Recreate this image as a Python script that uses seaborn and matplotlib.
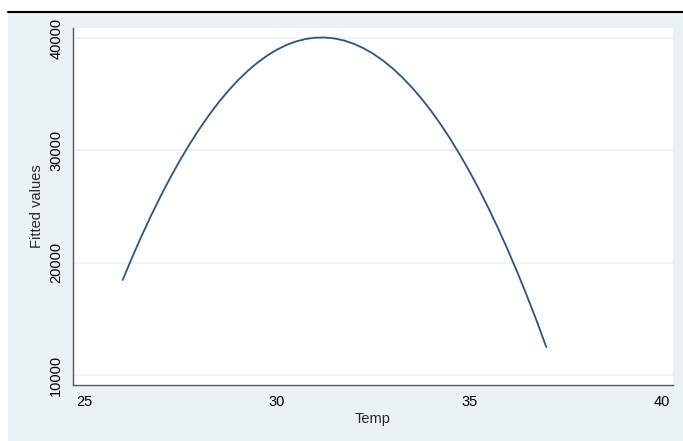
import matplotlib
matplotlib.use("Agg")
import matplotlib.pyplot as plt
import numpy as np
import pandas as pd
import seaborn as sns
from matplotlib.patches import Rectangle
from matplotlib.lines import Line2D

# fitted values (every 0.25 degrees)
temp = [26, 26.25, 26.5, 26.75, 27, 27.25, 27.5, 27.75, 28, 28.25, 28.5,
        28.75, 29, 29.25, 29.5, 29.75, 30, 30.25, 30.5, 30.75, 31, 31.25,
        31.5, 31.75, 32, 32.25, 32.5, 32.75, 33, 33.25, 33.5, 33.75, 34,
        34.25, 34.5, 34.75, 35, 35.25, 35.5, 35.75, 36, 36.25, 36.5, 36.75,
        37]
fitted = [18460, 20507, 22445, 24281, 26015, 27650, 29184, 30615, 31946,
          33176, 34304, 35332, 36258, 37083, 37807, 38430, 38952, 39373,
          39692, 39911, 40028, 40044, 39959, 39773, 39486, 39098, 38608,
          38018, 37326, 36533, 35639, 34644, 33548, 32351, 31052, 29653,
          28153, 26550, 24847, 23043, 21138, 19132, 17024, 14816, 12490]
x_ticks = [25, 30, 35, 40]
y_ticks = [10000, 20000, 30000, 40000]

BG = "#EAF2F3"
LINE = "#2E5286"

sns.set_theme(style="white")
plt.rcParams["font.family"] = ["Liberation Sans", "DejaVu Sans"]

W, H = 683, 441
fig = plt.figure(figsize=(W / 100, H / 100), dpi=100, facecolor="white")
# graph region (Stata-like light blue) with a black rule along its top
fig.patches.append(Rectangle((8 / W, 0), 1 - 8 / W, 1 - 12 / H,
                             transform=fig.transFigure, facecolor=BG,
                             edgecolor="none", zorder=-10))
fig.lines.append(Line2D([8 / W, 1], [1 - 12 / H, 1 - 12 / H],
                        transform=fig.transFigure, color="black", lw=1.5,
                        zorder=-5))

ax = fig.add_axes([73 / W, 1 - 385 / H, 600 / W, 357 / H])
ax.set_facecolor("white")

df = pd.DataFrame({"Temp": temp, "Fitted values": fitted})
sns.lineplot(data=df, x="Temp", y="Fitted values", ax=ax, color=LINE, lw=1.3)

ax.set_xlim(24.71, 40.29)
ax.set_ylim(9110, 40890)
ax.set_xticks(x_ticks)
ax.set_yticks(y_ticks)
ax.set_yticklabels([str(v) for v in y_ticks], rotation=90, va="center")
for y in y_ticks:
    ax.axhline(y, color=BG, lw=1.2, zorder=0)

for s in ["top", "right"]:
    ax.spines[s].set_visible(False)
for s in ["left", "bottom"]:
    ax.spines[s].set_color("#555555")
    ax.spines[s].set_linewidth(1.0)
ax.tick_params(axis="both", direction="out", length=5, width=1,
               color="#555555", labelsize=10.5, labelcolor="black", pad=2)
ax.set_xlabel("Temp", fontsize=10.5, labelpad=2)
ax.set_ylabel("Fitted values", fontsize=10.5, labelpad=4)

fig.savefig("out.png", dpi=100, facecolor=fig.get_facecolor())
